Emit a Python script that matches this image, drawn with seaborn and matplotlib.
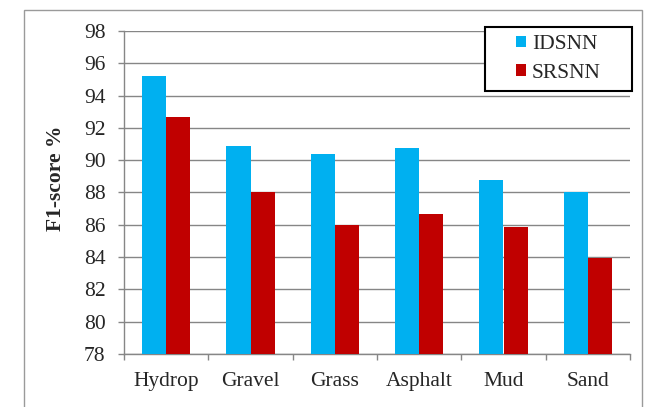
#!/usr/bin/env python3
"""
Grouped bar chart: F1-score of IDSNN vs SRSNN per terrain class.
"""

import pandas as pd
import matplotlib.pyplot as plt
import seaborn as sns
from matplotlib.patches import Rectangle

# Data
categories = ['Hydrop', 'Gravel', 'Grass', 'Asphalt', 'Mud', 'Sand']
idsnn = [95.2, 90.9, 90.4, 90.75, 88.75, 88.05]
srsnn = [92.65, 88.0, 86.0, 86.65, 85.85, 83.95]
series_names = ['IDSNN', 'SRSNN']
y_ticks = [78, 80, 82, 84, 86, 88, 90, 92, 94, 96, 98]

colors = ['#00B0F0', '#C00000']
W, H = 660, 407
FS = 15.5

sns.set_theme(style="white")
plt.rcParams['font.family'] = ['Liberation Serif', 'DejaVu Serif']

df = pd.DataFrame({
    'category': categories * 2,
    'value': idsnn + srsnn,
    'model': [series_names[0]] * len(categories) + [series_names[1]] * len(categories),
})

fig = plt.figure(figsize=(W / 100, H / 100), dpi=100)
ax = fig.add_axes([124 / W, 1 - 354 / H, (630 - 124) / W, (354 - 31) / H])

sns.barplot(data=df, x='category', y='value', hue='model', palette=colors,
            width=0.57, saturation=1, linewidth=0, ax=ax, zorder=3)

# Axis range and grid
ax.set_ylim(78, 98)
ax.set_xlim(-0.5, len(categories) - 0.5)
ax.set_yticks(y_ticks)
ax.yaxis.grid(True, color='#868686', linewidth=1.0, zorder=0)
ax.set_axisbelow(True)

# Spines
for side in ['top', 'right']:
    ax.spines[side].set_visible(False)
for side in ['left', 'bottom']:
    ax.spines[side].set_color('#868686')
    ax.spines[side].set_linewidth(1.0)

# Ticks: y outward marks, x marks at category boundaries
ax.tick_params(axis='y', which='major', length=4.3, width=1.0, color='#868686',
               labelsize=FS, pad=9, direction='out', left=True)
ax.tick_params(axis='x', which='major', length=0, labelsize=FS, pad=13)
ax.set_xticks([i - 0.5 for i in range(len(categories) + 1)], minor=True)
ax.tick_params(axis='x', which='minor', length=4.5, width=1.0, color='#868686',
               direction='out', bottom=True)

ax.set_xlabel('')
ax.set_ylabel('F1-score %', fontsize=FS, fontweight='bold')
ax.yaxis.set_label_coords(-0.115, 0.545)

# Legend: square frame drawn separately, entries centred inside it
lx0, ly0, lx1, ly1 = 485, 27, 632, 91
handles, labels = ax.get_legend_handles_labels()
ax.get_legend().remove()
leg = fig.legend(handles, labels, loc='center',
                 bbox_to_anchor=((lx0 + lx1) / 2 / W, 1 - (ly0 + ly1) / 2 / H),
                 fontsize=FS, frameon=False, handlelength=0.47, handleheight=0.47,
                 handletextpad=0.25, labelspacing=0.45, borderpad=0)
fig.patches.append(Rectangle((lx0 / W, 1 - ly1 / H), (lx1 - lx0) / W, (ly1 - ly0) / H,
                             transform=fig.transFigure, facecolor='white',
                             edgecolor='black', linewidth=1.5, zorder=4))

# Outer chart-area border
fig.patches.append(Rectangle((24 / W, -0.02), 618 / W, 1 - 10 / H + 0.02,
                             transform=fig.transFigure, fill=False,
                             edgecolor='#9a9a9a', linewidth=1.0))

fig.savefig('out.png', dpi=100)
